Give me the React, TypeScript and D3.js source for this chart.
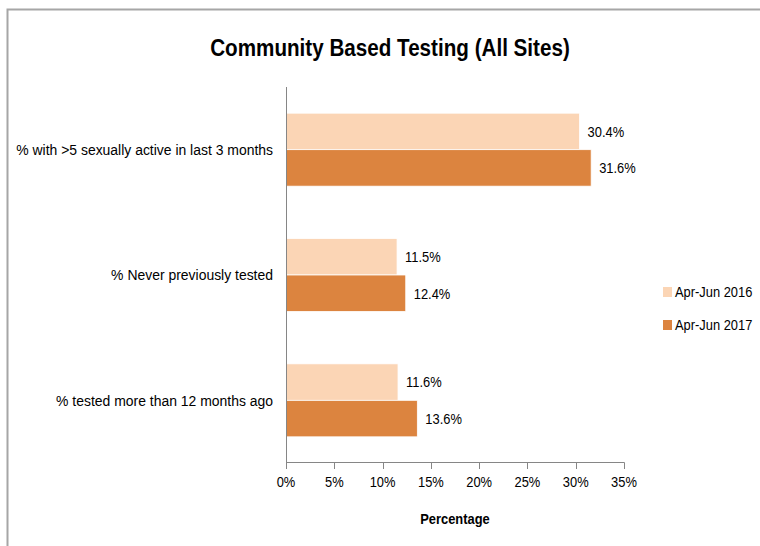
import React from "react";
import * as d3 from "d3";

const categories = [
  "% with >5 sexually active in last 3 months",
  "% Never previously tested",
  "% tested more than 12 months ago",
];
const seriesNames = ["Apr-Jun 2016", "Apr-Jun 2017"];
const values2016 = [30.4, 11.5, 11.6];
const values2017 = [31.6, 12.4, 13.6];
const xTicks = [0, 5, 10, 15, 20, 25, 30, 35];
const colors = ["#FBD5B5", "#DC843F"];

const FONT = "'Liberation Sans', Arial, sans-serif";
// Calibri-like narrowing factor relative to Liberation Sans
const NARROW = 0.86;

function T(props: any) {
  const { children, narrow = NARROW, x, y, anchor = "start", size = 15, weight = "normal" } = props;
  return (
    <text
      transform={`translate(${x},${y}) scale(${narrow},1)`}
      textAnchor={anchor}
      dominantBaseline="central"
      fontSize={size}
      fontWeight={weight}
      fill="#000"
      fontFamily={FONT}
    >
      {children}
    </text>
  );
}

export default function App() {
  const W = 760;
  const H = 546;
  const x = d3.scaleLinear().domain([0, 35]).range([286, 624]);
  const y = d3.scaleBand<string>().domain(categories).range([87, 463]).padding(0);
  const barH = 36.5;
  const series = [values2016, values2017];

  return (
    <svg
      width={W}
      height={H}
      style={{ position: "absolute", left: 0, top: 0, background: "#fff" }}
      fontFamily={FONT}
    >
      <rect x={0} y={0} width={W} height={H} fill="#fff" />
      <path d={`M7.5,${H} V9.5 H${W}`} fill="none" stroke="#a6a6a6" strokeWidth={2} />
      <T x={390} y={48} anchor="middle" size={24} weight="bold" narrow={0.86}>
        Community Based Testing (All Sites)
      </T>

      {categories.map((c, i) => {
        const cy = (y(c) as number) + y.bandwidth() / 2;
        return (
          <g key={c}>
            {series.map((vals, s) => {
              const top = cy - barH + s * barH;
              return (
                <g key={s}>
                  <rect
                    x={x(0)}
                    y={top}
                    width={x(vals[i]) - x(0)}
                    height={barH}
                    fill={colors[s]}
                    stroke="#fff"
                    strokeWidth={0.8}
                  />
                  <T x={x(vals[i]) + 8} y={top + barH / 2}>
                    {vals[i].toFixed(1)}%
                  </T>
                </g>
              );
            })}
            <T x={273} y={cy} anchor="end" narrow={0.93}>
              {c}
            </T>
          </g>
        );
      })}

      <line x1={286.5} x2={286.5} y1={87} y2={463} stroke="#868686" strokeWidth={1} />
      <line x1={286} x2={624.5} y1={462.5} y2={462.5} stroke="#868686" strokeWidth={1} />
      {xTicks.map((t) => (
        <g key={t}>
          <line x1={Math.round(x(t)) + 0.5} x2={Math.round(x(t)) + 0.5} y1={462.5} y2={469} stroke="#868686" strokeWidth={1} />
          <T x={x(t)} y={482} anchor="middle">
            {t}%
          </T>
        </g>
      ))}
      <T x={455} y={519} anchor="middle" weight="bold">
        Percentage
      </T>

      {seriesNames.map((n, s) => (
        <g key={n}>
          <rect x={663} y={287 + s * 33} width={9} height={10} fill={colors[s]} />
          <T x={675} y={292 + s * 33}>
            {n}
          </T>
        </g>
      ))}
    </svg>
  );
}
